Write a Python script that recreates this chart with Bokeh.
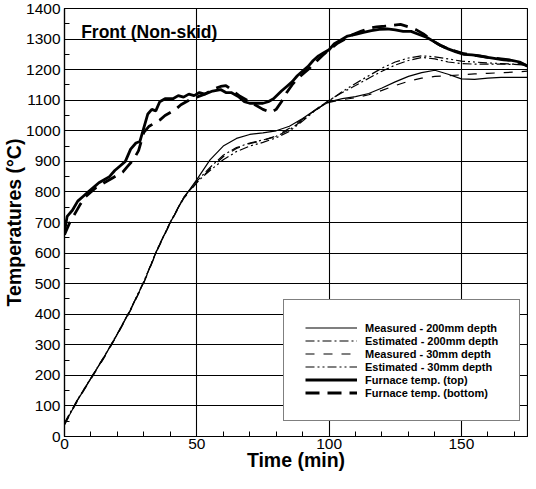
from bokeh.plotting import figure
from bokeh.models import Range1d, SingleIntervalTicker, Label
from bokeh.embed import file_html
from bokeh.resources import INLINE

# ---- data ----
t_sp = [0, 5, 10, 15, 20, 25, 30, 35, 40, 45, 50, 55, 60, 65, 70, 75, 80, 85, 90, 95,
        100, 105, 110, 115, 120, 125, 130, 135, 140, 145, 150, 155, 160, 165, 170, 175]
meas_200 = [40, 120, 190, 260, 335, 415, 505, 610, 700, 780, 840, 905, 950, 975, 988, 993, 1000, 1015, 1040, 1070,
            1095, 1105, 1112, 1122, 1140, 1160, 1178, 1190, 1198, 1185, 1170, 1168, 1172, 1175, 1175, 1175]
est_200 = [45, 122, 192, 262, 337, 417, 507, 612, 702, 782, 835, 880, 920, 945, 960, 970, 982, 1003, 1035, 1070,
           1100, 1125, 1148, 1172, 1195, 1215, 1230, 1240, 1235, 1225, 1220, 1218, 1218, 1218, 1217, 1215]
meas_30 = [38, 118, 188, 258, 333, 413, 503, 608, 698, 778, 830, 875, 915, 942, 958, 968, 983, 1008, 1038, 1068,
           1093, 1102, 1108, 1118, 1132, 1148, 1162, 1172, 1178, 1180, 1183, 1186, 1188, 1190, 1192, 1195]
est_30 = [42, 121, 191, 261, 336, 416, 506, 611, 701, 781, 832, 870, 905, 932, 950, 962, 977, 998, 1032, 1068,
          1098, 1128, 1155, 1180, 1205, 1225, 1238, 1245, 1242, 1235, 1228, 1225, 1222, 1220, 1218, 1215]

furn_top_t = [0, 1, 3, 5, 7, 9, 11, 13, 15, 17, 19, 21, 23, 25, 27, 28.5, 30, 31.5, 33, 34.5, 36, 38, 41, 43, 45,
              47, 49, 51, 53, 56, 59, 61, 63, 66, 68, 70, 72, 75, 77, 79, 82, 84, 86, 88, 90, 92, 94, 96, 98,
              100, 102, 104, 107, 110, 113, 116, 119, 122, 125, 128, 131, 134, 137, 140, 142, 145, 148, 151,
              154, 157, 160, 163, 166, 169, 172, 175]
furn_top = [670, 720, 740, 770, 785, 800, 815, 830, 840, 850, 870, 885, 900, 940, 960, 965, 1010, 1055, 1070, 1065,
            1095, 1105, 1105, 1115, 1110, 1120, 1115, 1125, 1120, 1130, 1135, 1125, 1125, 1110, 1095, 1090, 1090,
            1090, 1095, 1105, 1130, 1145, 1160, 1180, 1195, 1210, 1230, 1245, 1255, 1265, 1285, 1295, 1310, 1315,
            1322, 1328, 1332, 1333, 1330, 1325, 1325, 1315, 1305, 1290, 1280, 1268, 1258, 1250, 1248, 1245, 1240,
            1236, 1232, 1230, 1225, 1212]
furn_bot_t = [0, 2, 4, 6, 8, 10, 12, 14, 16, 18, 20, 22, 24, 26, 28, 30, 32, 34, 36, 38, 40, 42, 44, 46, 48, 50,
              53, 56, 59, 61, 63, 66, 69, 72, 75, 78, 80, 82, 84, 86, 88, 90, 92, 95, 98, 100, 103, 106, 109, 112,
              115, 118, 121, 124, 127, 130, 133, 136, 139, 142, 145, 148, 151, 155, 160, 165, 170, 175]
furn_bot = [660, 700, 730, 760, 785, 800, 815, 825, 835, 845, 855, 865, 885, 905, 935, 995, 1015, 1025, 1035, 1050,
            1060, 1070, 1085, 1095, 1105, 1110, 1120, 1135, 1145, 1148, 1135, 1115, 1100, 1085, 1070, 1060, 1070,
            1095, 1125, 1150, 1170, 1185, 1200, 1225, 1250, 1265, 1285, 1300, 1315, 1325, 1335, 1340, 1342, 1345,
            1348, 1340, 1330, 1315, 1295, 1280, 1268, 1260, 1252, 1247, 1240, 1235, 1230, 1212]

labels = ["Measured - 200mm depth", "Estimated - 200mm depth", "Measured - 30mm depth",
          "Estimated - 30mm depth", "Furnace temp. (top)", "Furnace temp. (bottom)"]

FONT = "Liberation Sans"

p = figure(width=528, height=473, output_backend="svg", toolbar_location=None,
           x_range=Range1d(0, 175), y_range=Range1d(0, 1400),
           min_border_left=58, min_border_top=8, min_border_right=1, min_border_bottom=0,
           background_fill_color="white", border_fill_color="white")
p.outline_line_color = "black"
p.outline_line_width = 1.2

p.xaxis.ticker = SingleIntervalTicker(interval=50, num_minor_ticks=5)
p.yaxis.ticker = SingleIntervalTicker(interval=100, num_minor_ticks=2)

for ax in (p.xaxis[0], p.yaxis[0]):
    ax.axis_line_color = "black"
    ax.axis_line_width = 1.2
    ax.major_tick_in = 6
    ax.major_tick_out = 0
    ax.minor_tick_in = 5
    ax.minor_tick_out = 0
    ax.major_tick_line_color = "black"
    ax.minor_tick_line_color = "black"
    ax.major_label_text_font = FONT
    ax.major_label_text_font_size = "15.5px"
    ax.major_label_text_color = "black"
    ax.axis_label_text_font = FONT
    ax.axis_label_text_font_size = "19.5px"
    ax.axis_label_text_font_style = "bold"
    ax.axis_label_text_color = "black"

p.xaxis.axis_label = "Time (min)"
p.yaxis.axis_label = "Temperatures (°C)"
p.xaxis.major_label_standoff = 2
p.xaxis.axis_label_standoff = -3
p.yaxis.major_label_standoff = 4
p.yaxis.axis_label_standoff = -2

p.xgrid.grid_line_color = "black"
p.xgrid.grid_line_width = 1.1
p.ygrid.grid_line_color = "black"
p.ygrid.grid_line_width = 1.1

thin = 1.2
thick = 2.8
p.line(t_sp, meas_200, line_color="black", line_width=thin, legend_label=labels[0])
p.line(t_sp, est_200, line_color="black", line_width=thin, line_dash="9 3 2 3", legend_label=labels[1])
p.line(t_sp, meas_30, line_color="black", line_width=thin, line_dash="9 9", legend_label=labels[2])
p.line(t_sp, est_30, line_color="black", line_width=thin, line_dash="9 3 2 3 2 3", legend_label=labels[3])
p.line(furn_top_t, furn_top, line_color="black", line_width=thick, legend_label=labels[4])
p.line(furn_bot_t, furn_bot, line_color="black", line_width=thick, line_dash="14 8", legend_label=labels[5])

lg = p.legend[0]
lg.location = (219, 15)
lg.border_line_color = "black"
lg.border_line_width = 1.2
lg.background_fill_color = "white"
lg.background_fill_alpha = 1.0
lg.label_text_font = FONT
lg.label_text_font_size = "11px"
lg.label_text_font_style = "bold"
lg.label_text_color = "black"
lg.glyph_width = 52
lg.glyph_height = 13
lg.label_height = 13
lg.label_standoff = 8
lg.spacing = 0
lg.padding = 21
lg.margin = 0

p.add_layout(Label(x=6.3, y=1322, text="Front (Non-skid)", text_font=FONT, text_baseline="alphabetic",
                   text_font_size="17.5px", text_font_style="bold", text_color="black"))

open("out.html", "w").write(file_html(p, INLINE))
